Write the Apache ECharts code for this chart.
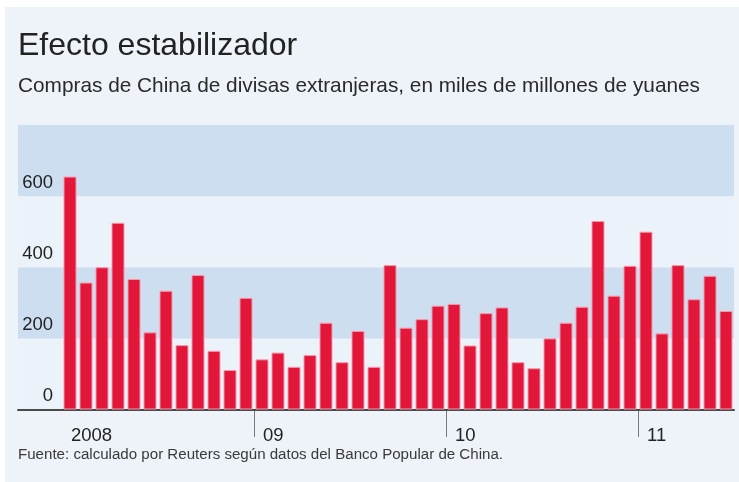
<!DOCTYPE html>
<html><head><meta charset="utf-8">
<script src="https://cdn.jsdelivr.net/npm/echarts@6/dist/echarts.min.js"></script>
<style>html,body{margin:0;padding:0;background:#fff}#c{width:739px;height:482px}</style>
</head><body><div id="c"></div>
<script>
const titleText = 'Efecto estabilizador';
const subtitleText = 'Compras de China de divisas extranjeras, en miles de millones de yuanes';
const sourceText = 'Fuente: calculado por Reuters según datos del Banco Popular de China.';

const months = [
  '2008-01','2008-02','2008-03','2008-04','2008-05','2008-06','2008-07','2008-08','2008-09','2008-10','2008-11','2008-12',
  '2009-01','2009-02','2009-03','2009-04','2009-05','2009-06','2009-07','2009-08','2009-09','2009-10','2009-11','2009-12',
  '2010-01','2010-02','2010-03','2010-04','2010-05','2010-06','2010-07','2010-08','2010-09','2010-10','2010-11','2010-12',
  '2011-01','2011-02','2011-03','2011-04','2011-05','2011-06'
];
const purchases = [
  655,357,400,525,367,217,334,181,378,165,111,314,
  141,160,120,153,244,133,221,120,406,230,254,292,
  297,180,271,287,133,116,200,244,289,530,320,404,
  500,214,406,310,376,277
];
const yearLabels = {'2008-01':'2008','2009-01':'09','2010-01':'10','2011-01':'11'};
const monthsPerYear = 12;
const yMin = 0, yMax = 800, yStep = 200;

const FONT = 'Liberation Sans, Arial, sans-serif';
const chart = echarts.init(document.getElementById('c'), null, {renderer:'canvas'});
const gridTop = 125, gridBottom = 72.5;

chart.setOption({
  backgroundColor: '#ffffff',
  animation: false,
  graphic: [{
    type: 'rect', z: -10, silent: true,
    shape: {x: 5, y: 7, width: 734, height: 475},
    style: {fill: '#EDF3F9'}
  }],
  title: [
    {text: titleText, left: 18, top: 30, padding: 0,
     textStyle: {fontFamily: FONT, fontSize: 32, fontWeight: 'normal', color: '#222'}},
    {text: subtitleText, left: 18, top: 76, padding: 0,
     textStyle: {fontFamily: FONT, fontSize: 20.8, fontWeight: 'normal', color: '#2a2a2a'}},
    {text: sourceText, left: 18, top: 447, padding: 0,
     textStyle: {fontFamily: FONT, fontSize: 15.1, fontWeight: 'normal', color: '#3a3a3a'}}
  ],
  grid: [
    {left: 62, right: 5, top: gridTop, bottom: gridBottom, containLabel: false},
    {left: 18, right: 5, top: gridTop, bottom: gridBottom, containLabel: false},
    {left: 62, right: 5, top: 482 - gridBottom, bottom: 45, containLabel: false}
  ],
  xAxis: [
    {type: 'category', gridIndex: 0, data: months, boundaryGap: true,
     axisLine: {show: false},
     axisTick: {show: false},
     axisLabel: {interval: (i) => i % monthsPerYear === 0, formatter: (v) => yearLabels[v] || '',
                 align: 'left', margin: 17, padding: [0,0,0,1],
                 fontFamily: FONT, fontSize: 18.5, color: '#222'},
     splitLine: {show: false}},
    {type: 'value', gridIndex: 1, min: 0, max: 1,
     axisLine: {show: true, onZero: false, lineStyle: {color: '#4a4a4a', width: 2}},
     axisTick: {show: false}, axisLabel: {show: false}, splitLine: {show: false}},
    {type: 'value', gridIndex: 2, min: 0, max: months.length, interval: monthsPerYear,
     axisLine: {show: false}, axisTick: {show: false}, axisLabel: {show: false},
     splitLine: {show: true, showMinLine: false, showMaxLine: false,
                 lineStyle: {color: '#7a7a7a', width: 1}}}
  ],
  yAxis: [
    {type: 'value', gridIndex: 0, min: yMin, max: yMax, interval: yStep,
     axisLine: {show: false}, axisTick: {show: false}, splitLine: {show: false},
     axisLabel: {formatter: (v) => v === yMax ? '' : String(v), margin: 9,
                 verticalAlign: 'bottom', padding: [0,0,4,0],
                 fontFamily: FONT, fontSize: 18.5, color: '#222'}},
    {type: 'value', gridIndex: 1, min: yMin, max: yMax, interval: yStep,
     axisLine: {show: false}, axisTick: {show: false}, axisLabel: {show: false},
     splitLine: {show: false},
     splitArea: {show: true, areaStyle: {color: ['#ECF2F9', '#CEDEF1']}}},
    {type: 'value', gridIndex: 2, min: 0, max: 1, show: false}
  ],
  series: [{
    type: 'bar', xAxisIndex: 0, yAxisIndex: 0, data: purchases,
    barWidth: 13, z: 5,
    itemStyle: {color: '#E2173A', borderColor: '#F59AAB', borderWidth: 1}
  }]
});
</script></body></html>
